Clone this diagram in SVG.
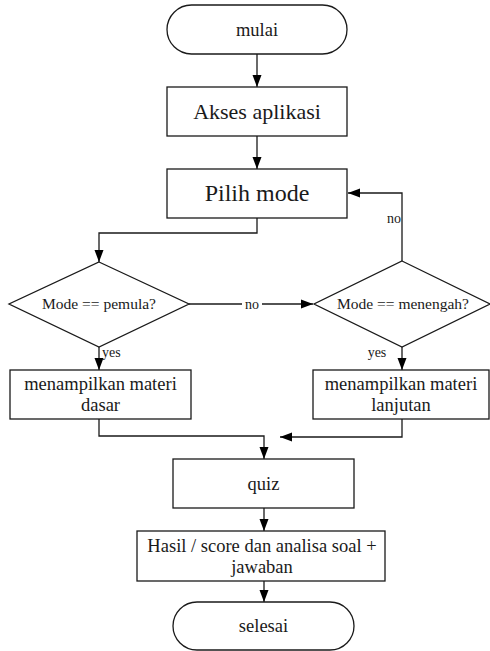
<svg xmlns="http://www.w3.org/2000/svg" width="490" height="651" viewBox="0 0 490 651">
  <style>
    .shape { fill: #ffffff; stroke: #1a1a1a; stroke-width: 1.3; }
    .conn { fill: none; stroke: #1a1a1a; stroke-width: 1.3; }
    text { font-family: "Liberation Serif", "Times New Roman", serif; fill: #1a1a1a; text-anchor: middle; }
    .big { font-size: 22px; }
    .mid { font-size: 18.5px; }
    .dec { font-size: 15.5px; }
    .lbl { font-size: 14px; }
  </style>
  <defs>
    <marker id="arrow" markerWidth="12" markerHeight="10" refX="12" refY="5" orient="auto" markerUnits="userSpaceOnUse">
      <path d="M0,0.5 L12,5 L0,9.5 Z" fill="#000000"/>
    </marker>
  </defs>

  <rect width="490" height="651" fill="#ffffff"/>

  <!-- connectors -->
  <g id="connectors">
    <path class="conn" d="M257,54 V87" marker-end="url(#arrow)"/>
    <path class="conn" d="M257,136 V169" marker-end="url(#arrow)"/>
    <path class="conn" d="M257,218 V233 H99 V262" marker-end="url(#arrow)"/>
    <path class="conn" d="M189,304 H313" marker-end="url(#arrow)"/>
    <path class="conn" d="M402,261 V193 H348" marker-end="url(#arrow)"/>
    <path class="conn" d="M99,347 V370" marker-end="url(#arrow)"/>
    <path class="conn" d="M402,347 V370" marker-end="url(#arrow)"/>
    <path class="conn" d="M99,419 V436 H264 V459" marker-end="url(#arrow)"/>
    <path class="conn" d="M402,419 V437 H280" marker-end="url(#arrow)"/>
    <path class="conn" d="M264,508 V531" marker-end="url(#arrow)"/>
    <path class="conn" d="M264,581 V602" marker-end="url(#arrow)"/>
    <!-- branch labels -->
    <rect x="242" y="297" width="20" height="14" fill="#ffffff"/>
    <text class="lbl" x="252" y="308.5">no</text>
    <text class="lbl" x="401" y="223" style="text-anchor:end">no</text>
    <text class="lbl" x="102" y="357" style="text-anchor:start">yes</text>
    <text class="lbl" x="377" y="357">yes</text>
  </g>

  <g id="mulai">
    <rect class="shape" x="167" y="5" width="180" height="49" rx="24.5" ry="24.5"/>
    <text class="mid" x="257" y="36">mulai</text>
  </g>

  <g id="akses-aplikasi">
    <rect class="shape" x="167" y="87" width="180" height="49"/>
    <text class="big" x="257" y="119">Akses aplikasi</text>
  </g>

  <g id="pilih-mode">
    <rect class="shape" x="167" y="169" width="180" height="49"/>
    <text class="big" x="257" y="201" style="font-size:24px">Pilih mode</text>
  </g>

  <g id="cek-pemula">
    <polygon class="shape" points="99,262 189,304 99,347 9,304"/>
    <text class="dec" x="99" y="309">Mode == pemula?</text>
  </g>

  <g id="cek-menengah">
    <polygon class="shape" points="402,261 490,304 402,347 314,304"/>
    <text class="dec" x="403" y="309">Mode == menengah?</text>
  </g>

  <g id="materi-dasar">
    <rect class="shape" x="10" y="370" width="181" height="49"/>
    <text class="mid" x="100.5" y="390">menampilkan materi</text>
    <text class="mid" x="100.5" y="411">dasar</text>
  </g>

  <g id="materi-lanjutan">
    <rect class="shape" x="313" y="370" width="176" height="49"/>
    <text class="mid" x="401" y="390">menampilkan materi</text>
    <text class="mid" x="401" y="411">lanjutan</text>
  </g>

  <g id="quiz">
    <rect class="shape" x="173" y="459" width="181" height="49"/>
    <text class="mid" x="263.5" y="490">quiz</text>
  </g>

  <g id="hasil">
    <rect class="shape" x="137" y="531" width="248" height="50"/>
    <text class="mid" x="262" y="552">Hasil / score dan analisa soal +</text>
    <text class="mid" x="262" y="573">jawaban</text>
  </g>

  <g id="selesai">
    <rect class="shape" x="173" y="602" width="181" height="48" rx="24" ry="24"/>
    <text class="mid" x="263.5" y="632">selesai</text>
  </g>
</svg>
